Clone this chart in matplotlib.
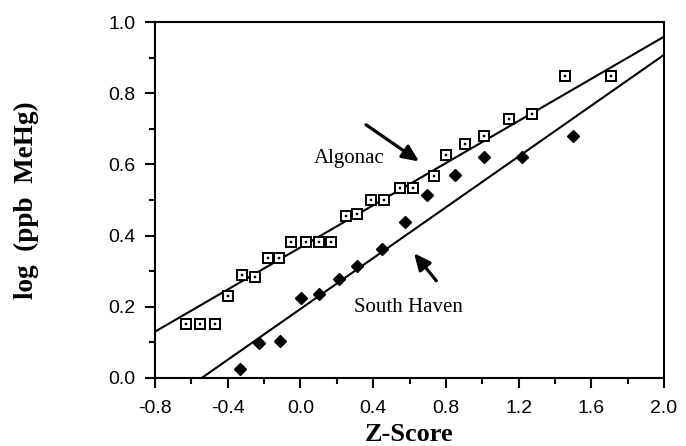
import matplotlib
matplotlib.use("Agg")
import matplotlib.pyplot as plt
import numpy as np
from matplotlib.ticker import MultipleLocator, FormatStrFormatter

# Algonac (open squares)
alg_z = [-0.63, -0.55, -0.47, -0.40, -0.32, -0.25, -0.18, -0.12,
         -0.05, 0.03, 0.10, 0.17, 0.25, 0.31, 0.39, 0.46, 0.55, 0.62,
         0.735, 0.80, 0.905, 1.01, 1.145, 1.276, 1.457, 1.708]
alg_y = [0.152, 0.152, 0.152, 0.23, 0.29, 0.285, 0.337, 0.337,
         0.382, 0.382, 0.382, 0.382, 0.455, 0.46, 0.50, 0.50, 0.534, 0.534,
         0.567, 0.626, 0.657, 0.68, 0.727, 0.742, 0.848, 0.848]
# South Haven (filled diamonds)
sh_z = [-0.335, -0.23, -0.11, 0.003, 0.10, 0.21, 0.31, 0.446, 0.577,
        0.697, 0.85, 1.01, 1.216, 1.50]
sh_y = [0.025, 0.098, 0.104, 0.225, 0.236, 0.278, 0.315, 0.362, 0.438,
        0.514, 0.57, 0.62, 0.62, 0.68]
# fitted lines (slope, intercept)
alg_fit = (0.296, 0.367)
sh_fit = (0.357, 0.194)

fig = plt.figure(figsize=(6.86, 4.46), dpi=100)
ax = fig.add_axes([0.226, 0.1525, 0.742, 0.798])

xl = np.array([-0.8, 2.0])
ax.plot(xl, alg_fit[0] * xl + alg_fit[1], color="black", lw=1.5, zorder=2)
ax.plot(xl, sh_fit[0] * xl + sh_fit[1], color="black", lw=1.5, zorder=2)

ax.plot(alg_z, alg_y, linestyle="none", marker="s", markersize=7,
        markerfacecolor="white", markeredgecolor="black", markeredgewidth=1.4, zorder=3)
ax.plot(alg_z, alg_y, linestyle="none", marker="s", markersize=1.8,
        markerfacecolor="black", markeredgecolor="black", markeredgewidth=0.3, zorder=4)
ax.plot(sh_z, sh_y, linestyle="none", marker="D", markersize=6.5,
        markerfacecolor="black", markeredgecolor="black", zorder=3)

ax.set_xlim(-0.8, 2.0)
ax.set_ylim(0.0, 1.0)
ax.xaxis.set_major_locator(MultipleLocator(0.4))
ax.xaxis.set_minor_locator(MultipleLocator(0.2))
ax.yaxis.set_major_locator(MultipleLocator(0.2))
ax.yaxis.set_minor_locator(MultipleLocator(0.1))
ax.xaxis.set_major_formatter(FormatStrFormatter("%.1f"))
ax.yaxis.set_major_formatter(FormatStrFormatter("%.1f"))
ax.tick_params(which="major", direction="out", length=7, width=1.5,
               labelsize=14)
ax.tick_params(axis="x", which="major", pad=9)
ax.tick_params(axis="y", which="major", pad=7)
ax.tick_params(which="minor", direction="out", length=4, width=1.5)
for lab in ax.get_xticklabels() + ax.get_yticklabels():
    lab.set_family("Liberation Sans")
for sp in ax.spines.values():
    sp.set_linewidth(1.5)

ax.set_xlabel("Z-Score", family="Liberation Serif", fontweight="bold",
              fontsize=19, labelpad=4.5)
ax.set_ylabel("log  (ppb  MeHg)", family="Liberation Serif", fontweight="bold",
              fontsize=19.5, labelpad=50)

ax.text(0.266, 0.618, "Algonac", family="Liberation Serif", fontsize=15,
        ha="center", va="center")
ax.annotate("", xy=(0.665, 0.604), xytext=(0.348, 0.716),
            arrowprops=dict(arrowstyle="-|>,head_length=1.0,head_width=0.45",
                            color="black", lw=2.3))
ax.text(0.593, 0.197, "South Haven", family="Liberation Serif", fontsize=15,
        ha="center", va="center")
ax.annotate("", xy=(0.615, 0.357), xytext=(0.757, 0.267),
            arrowprops=dict(arrowstyle="-|>,head_length=1.0,head_width=0.45",
                            color="black", lw=2.3))

fig.savefig("out.png", dpi=100)
